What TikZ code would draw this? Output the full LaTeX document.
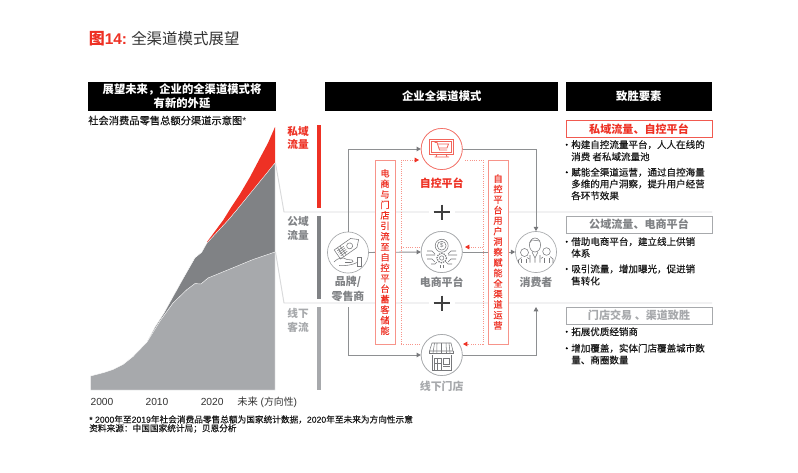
\documentclass[tikz,border=0pt]{standalone}
\usepackage{fontspec}
\setmainfont{Noto Sans CJK SC}
\newfontfamily\hv{Liberation Sans}
\newfontfamily\med[FakeBold=0.25]{Noto Sans CJK SC}
\newfontfamily\hvmed[FakeBold=0.15]{Liberation Sans}
\usetikzlibrary{arrows.meta}
\definecolor{rd}{HTML}{EE3124}
\definecolor{salmon}{HTML}{F7948A}
\definecolor{dg}{HTML}{808285}
\definecolor{mg}{HTML}{A7A9AC}
\definecolor{lg}{HTML}{D9DADB}
\definecolor{ic}{HTML}{77787B}
\newcommand{\fsz}[1]{\fontsize{#1}{#1}\selectfont}
\tikzset{
 x=0.75pt,y=-0.75pt,
 head/.style={fill=black,text=white,font=\fsz{8.5}\bfseries,align=center,inner sep=0pt,minimum height=21.8pt,anchor=north west},
 body/.style={font=\fsz{7.15}\med,text=black!90,anchor=west,inner sep=0pt},
 sidelab/.style={font=\fsz{8}\bfseries,align=center,inner sep=0pt},
 tag/.style={draw,fill=white,line width=0.8pt,minimum width=109.5pt,minimum height=12.8pt,inner sep=0pt,font=\fsz{8.3}\bfseries,anchor=north west},
 vbox/.style={draw=salmon,fill=white,line width=0.7pt,minimum width=15pt,minimum height=138pt,inner sep=0pt,text=rd,font=\fontsize{6.9}{7.87}\selectfont\med,align=center},
 circ/.style={circle,draw=mg,fill=white,line width=0.5pt,minimum size=30.8pt,inner sep=0pt},
 conn/.style={draw=mg!85!black,line width=0.7pt,-{Triangle[length=3.2pt,width=3.4pt,fill=ic,color=ic]}},
 dots/.style={draw=salmon,line width=0.7pt,densely dotted},
 dotarrow/.style={draw=salmon,line width=0.7pt,densely dotted,-{Triangle[length=3.2pt,width=3.4pt,fill=rd,color=rd]}},
 iconl/.style={draw=ic,line width=0.4pt},
 iconr/.style={draw=rd!75,line width=0.6pt},
 plusbar/.style={draw=black!75,line width=1.3pt},
 guide/.style={draw=lg,line width=0.7pt},
 blt/.style={circle,fill=black,inner sep=0pt,minimum size=1.7pt},
 axl/.style={font=\hv\fsz{7.7},text=black!80,anchor=west,inner sep=0pt},
 foot/.style={font=\fsz{6.5}\med,text=black!90,anchor=west,inner sep=0pt},
 clab/.style={inner sep=0pt,font=\fsz{8.2}\bfseries}
}
\begin{document}
\begin{tikzpicture}
\useasboundingbox (0,0) rectangle (798,472);
\fill[white] (0,0) rectangle (798,472);
% title
\node[anchor=west,inner sep=0pt,text=rd,font=\fsz{12}\bfseries] (ttl) at (88.5,39) {图{\hv\bfseries\fsz{11.6}14:}};
\node[anchor=west,inner sep=0pt,text=black!80,font=\fsz{11.6}] (ttl2) at (131,39) {全渠道模式展望};
% headers
\node[head,minimum width=140.6pt] (h1) at (88,81.5) {展望未来，企业的全渠道模式将\\[1pt]有新的外延};
\node[head,minimum width=174.8pt] (h2) at (325,81.5) {企业全渠道模式};
\node[head,minimum width=109.6pt] (h3) at (565.5,81.5) {致胜要素};
\node[body,font=\fsz{7.7}\med] (sub) at (88,120.5) {社会消费品零售总额分渠道示意图{\hv *}};
% chart
\fill[rd] (207,242) -- (223.3,220) -- (232,206) -- (240,194) -- (250,177) -- (260,158) -- (268,143) -- (275,127) -- (275,165) -- (207,245) -- cycle;
\path[fill=dg,draw=white,line width=0.3pt] (147,342) -- (155,327) -- (164,313) -- (173,296.7) -- (184,277) -- (195,257.7) -- (201.7,252.3) -- (206.7,243.3) -- (228.3,220) -- (236.7,210) -- (275,163) -- (275,253) -- (147,345) -- cycle;
\path[fill=mg,draw=white,line width=0.3pt] (90.5,376) -- (104,372.5) -- (113,369.5) -- (123,364.5) -- (133,356.5) -- (147,342) -- (160,321) -- (173,303) -- (187,289.5) -- (195,283.5) -- (201,284) -- (208,278) -- (230,269) -- (253,259.5) -- (275,252) -- (275,390) -- (90.5,390) -- cycle;
% guides from chart
\coordinate (gA) at (275.5,163); \coordinate (gB) at (284,212);
\coordinate (gC) at (275.5,252); \coordinate (gD) at (284,303);
\coordinate (gR1) at (712,212); \coordinate (gR2) at (712,303);
\draw[guide] (gA) -- (gB) -- (gR1);
\draw[guide] (gC) -- (gD) -- (gR2);
% axis labels
\node[axl] (a1) at (90.3,402) {2000};
\node[axl] (a2) at (145.3,402) {2010};
\node[axl] (a3) at (200.5,402) {2020};
\node[axl] (a4) at (237,402) {{\fsz{7.7}\rmfamily 未来} ({\fsz{7.4}\rmfamily 方向性})};
% foot
\node[foot] (f1) at (89,419.5) {{\hvmed * 2000}年至{\hvmed 2019}年社会消费品零售总额为国家统计数据，{\hvmed 2020}年至未来为方向性示意};
\node[foot] (f2) at (89,428.5) {资料来源：中国国家统计局；贝恩分析};
% side bars
\fill[rd] (317,125) rectangle (321,208);
\fill[dg] (317,216) rectangle (321,299);
\fill[mg] (317,307) rectangle (321,390);
\node[sidelab,text=rd] (s1a) at (298,131) {私域};
\node[sidelab,text=rd] (s1b) at (298,144.5) {流量};
\node[sidelab,text=dg] (s2a) at (298,221.7) {公域};
\node[sidelab,text=dg] (s2b) at (298,235) {流量};
\node[sidelab,text=mg] (s3a) at (298,313) {线下};
\node[sidelab,text=mg] (s3b) at (298,327) {客流};
% nodes
\node[circ,draw=rd!70] (top) at (441.7,149) {};
\node[circ] (ec) at (441.7,252) {};
\node[circ] (store) at (441.7,355) {};
\node[circ] (brand) at (348,252.5) {};
\node[circ] (cust) at (536,252) {};
\coordinate (brandOut) at (348,307);
\coordinate (custIn) at (536,307);
% connectors
\draw[conn] (brand.north) |- (top.west);
\draw[conn] (top.east) -| (cust.north);
\draw[conn] (brand.east) -- (ec.west);
\draw[conn] (ec.east) -- (cust.west);
\draw[conn] (brandOut) |- (store.west);
\draw[conn] (store.east) -| (custIn);
% dotted frame
\coordinate (dTL) at (401,160); \coordinate (dTR) at (483,160);
\coordinate (dBL) at (401,344); \coordinate (dBR) at (483,344);
\coordinate (dTa) at (419,160); \coordinate (dTb) at (465,160);
\coordinate (dMa) at (421,247); \coordinate (dMb) at (465,247);
\coordinate (dMl) at (401,247); \coordinate (dMr) at (483,247);
\coordinate (dBa) at (421,344); \coordinate (dBb) at (463,344);
\draw[dotarrow] (dBL) -- (dTL) -- (dTa);
\draw[dots] (dTb) -- (dTR) -- (dBR);
\draw[dots] (dBL) -- (dBa);
\draw[dotarrow] (dBR) -- (dBb);
\draw[dots] (dMl) -- (dMa);
\draw[dotarrow] (dMr) -- (dMb);
% red vertical boxes
\node[vbox] (vL) at (385,252) {电\\商\\与\\门\\店\\引\\流\\至\\自\\控\\平\\台\\蓄\\客\\储\\能};
\node[vbox] (vR) at (498,252) {自\\控\\平\\台\\用\\户\\洞\\察\\赋\\能\\全\\渠\\道\\运\\营};
% circles redrawn on top of dotted lines
\node[circ,draw=rd!70] (top2) at (top) {};
\node[circ] (ec2) at (ec) {};
\node[circ] (store2) at (store) {};
% plus
\fill[white] (429,206) rectangle (455,218);
\fill[white] (429,297) rectangle (455,309);
\coordinate (p1l) at (433.5,212); \coordinate (p1r) at (449.5,212);
\coordinate (p1t) at (441.7,204.5); \coordinate (p1b) at (441.7,219.5);
\coordinate (p2l) at (433.5,303); \coordinate (p2r) at (449.5,303);
\coordinate (p2t) at (441.7,295.5); \coordinate (p2b) at (441.7,310.5);
\draw[plusbar] (p1l) -- (p1r) (p1t) -- (p1b);
\draw[plusbar] (p2l) -- (p2r) (p2t) -- (p2b);
% circle labels
\node[clab,text=rd] (ltop) at (441.7,183.5) {自控平台};
\node[clab,text=dg] (lec) at (441.7,282) {电商平台};
\node[clab,text=mg] (lstore) at (441.7,386) {线下门店};
\node[clab,text=dg] (lb1) at (348,282) {品牌/};
\node[clab,text=dg] (lb2) at (348,296) {零售商};
\node[clab,text=dg] (lc) at (536,282) {消费者};
% icon: monitor + cart
\draw[iconr] (429.7,139) rectangle (453,154);
\draw[iconr] (431.5,141) rectangle (451.2,152);
\draw[iconr] (437,154) -- (436,157) (446,154) -- (447,157) (434.5,157) -- (449,157);
\draw[iconr] (434.5,142.5) -- (437,142.5) -- (439.5,150) -- (447,150);
\draw[iconr] (437.5,144) -- (448.5,144) -- (447,148) -- (438.8,148);
% icon: coin + gear + circuits
\draw[iconl] (441.7,245.7) circle (6.5);
\draw[iconl] (441.7,245.7) circle (4.4);
\node[inner sep=0pt,font=\hv\fsz{4.5},text=ic] (cn) at (441.7,245.7) {\$};
\draw[iconl,line width=0.9pt,dash pattern=on 1pt off 0.8pt] (441.7,258) circle (4.8);
\draw[iconl] (441.7,258) circle (2.2);
\draw[iconl] (427,251) -- (432,251) -- (435,254) (426,255) -- (435,255) (427,259) -- (432,259) -- (435,262) (431,264) -- (435,264) -- (437,262);
\draw[iconl] (456,251) -- (451,251) -- (448,254) (457,255) -- (448,255) (456,259) -- (451,259) -- (448,262) (452,264) -- (448,264) -- (446,262);
\draw[iconl] (440,265) -- (440,268) (443.5,265) -- (443.5,268);
% icon: store
\draw[iconl] (432,343) -- (451,343) -- (453,351) -- (429.5,351) -- cycle;
\draw[iconl] (429.5,351) -- (429.5,353) -- (452.9,353) -- (452.9,351);
\draw[iconl] (434.5,343) -- (433,353) (437,343) -- (436.8,353) (441.5,343) -- (441.5,353) (446,343) -- (446.5,353) (449,343) -- (450,353);
\draw[iconl] (432,355) -- (432,370) -- (451,370) -- (451,355);
\draw[iconl] (434,358) rectangle (441,370);
\draw[iconl] (437.5,358) -- (437.5,370) (434,363) -- (441,363);
\draw[iconl] (443,358) rectangle (449,364);
\draw[iconl] (443,366) -- (449.5,366);
% icon: people
\draw[iconl] (535,245) ellipse (5.6 and 7);
\draw[iconl] (529.5,243) -- (532,240) -- (540,241);
\draw[iconl] (530,255) -- (530,262.5) (540,255) -- (540,262.5) (532,252) -- (535,258) -- (538,252) (535,258) -- (535,262.5);
\draw[iconl] (524.5,252.5) circle (4);
\draw[iconl] (546.5,251.5) circle (3.8);
\draw[iconl] (518.5,263) -- (518.5,260) -- (521.5,257.5) (527,257.5) -- (529.5,259);
\draw[iconl] (543,257) -- (541,258.5) (550,256.5) -- (553,259) -- (553,263);
\draw[iconl] (521.5,259) -- (521.5,263) (526.5,259) -- (526.5,263) (544,258) -- (544,263) (549.5,258) -- (549.5,263);
% icon: rocket + hand
\begin{scope}[shift={(348,247)},rotate=35]
\draw[iconl] (-13,-5.5) -- (7,-5.5) -- (13,0) -- (7,5.5) -- (-13,5.5) -- cycle;
\draw[iconl] (2,0) circle (3);
\draw[iconl] (-11,-3) -- (-3,-3) (-11,-1) -- (-3,-1) (-11,1) -- (-3,1) (-11,3) -- (-3,3);
\draw[iconl] (-9,-5.5) -- (-9,5.5) (-6,-5.5) -- (-6,5.5);
\end{scope}
\draw[iconl] (334,262) .. controls (339,257) and (343,257) .. (347,259.5) -- (352,260) .. controls (354,261) and (353,262.5) .. (351,262.5) -- (345,262.5);
\draw[iconl] (339,265.5) .. controls (346,266) and (352,265) .. (357,262.5);
\draw[iconl] (357,257.5) rectangle (361.5,266);
% right column
\node[tag,draw=rd!80,text=rd] (t1) at (565.5,119.8) {私域流量、自控平台};
\node[tag,draw=mg,text=dg] (t2) at (565.5,215.6) {公域流量、电商平台};
\node[tag,draw=mg,text=mg] (t3) at (565.5,306.6) {门店交易 、渠道致胜};
\node[blt] (b1) at (566.8,144.7) {};
\node[blt] (b2) at (566.8,172.3) {};
\node[blt] (b3) at (566.8,241.7) {};
\node[blt] (b4) at (566.8,269) {};
\node[blt] (b5) at (566.8,331.7) {};
\node[blt] (b6) at (566.8,348.3) {};
\node[body] (r1) at (571,144.7) {构建自控流量平台，人人在线的};
\node[body] (r2) at (571,156.7) {消费 者私域流量池};
\node[body] (r3) at (571,172.3) {赋能全渠道运营，通过自控海量};
\node[body] (r4) at (571,184) {多维的用户洞察，提升用户经营};
\node[body] (r5) at (571,195.7) {各环节效果};
\node[body] (r6) at (571,241.7) {借助电商平台，建立线上供销};
\node[body] (r7) at (571,253.3) {体系};
\node[body] (r8) at (571,269) {吸引流量，增加曝光，促进销};
\node[body] (r9) at (571,281) {售转化};
\node[body] (r10) at (571,331.7) {拓展优质经销商};
\node[body] (r11) at (571,348.3) {增加覆盖，实体门店覆盖城市数};
\node[body] (r12) at (571,360) {量、商圈数量};
\end{tikzpicture}
\end{document}
